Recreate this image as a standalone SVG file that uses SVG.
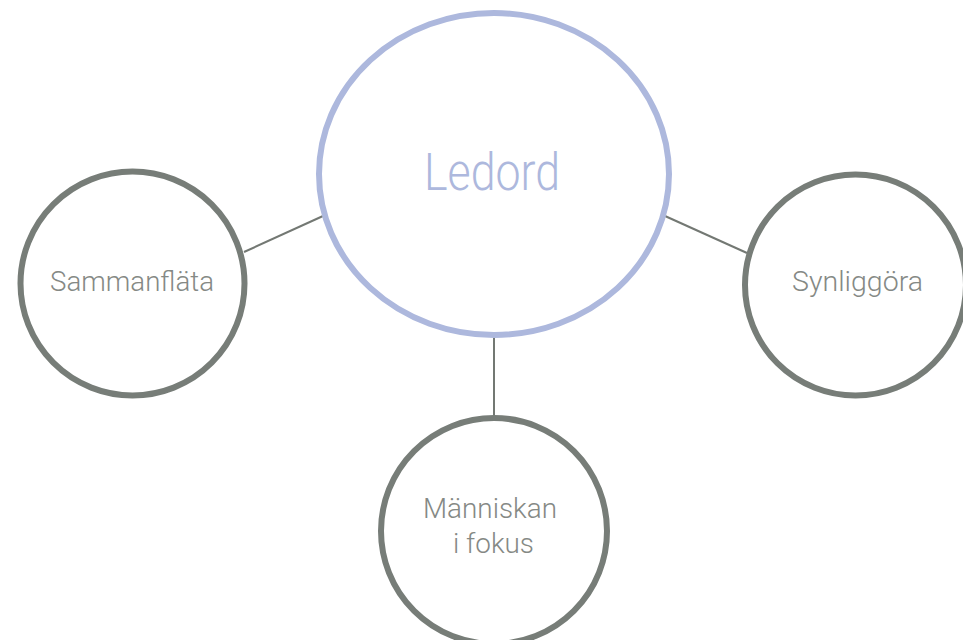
<svg xmlns="http://www.w3.org/2000/svg" width="963" height="640" viewBox="0 0 963 640">
<style>
.sat{fill:#ffffff;stroke:#777d78;stroke-width:6}
.lbl{font-family:"Roboto","Liberation Sans",Arial,sans-serif;font-weight:300;font-size:28px;fill:#858985;text-anchor:middle}
.conn{stroke:#737873;stroke-width:2;fill:none}
</style>
<rect width="963" height="640" fill="#ffffff"/>
<g id="connectors">
<line class="conn" x1="244" y1="252" x2="323" y2="216"/>
<line class="conn" x1="665" y1="216" x2="747" y2="253"/>
<line class="conn" x1="494" y1="336" x2="494" y2="418"/>
</g>
<g id="ledord">
<ellipse cx="494" cy="174" rx="175" ry="161" fill="#ffffff" stroke="#adb8dd" stroke-width="6"/>
<text x="492" y="189.5" font-family="Roboto,Liberation Sans,Arial,sans-serif" font-weight="300" font-size="51" fill="#adb8dd" text-anchor="middle" textLength="136" lengthAdjust="spacingAndGlyphs">Ledord</text>
</g>
<g id="sammanflata">
<circle class="sat" cx="132.5" cy="283.5" r="112"/>
<text class="lbl" x="132" y="291" textLength="164" lengthAdjust="spacingAndGlyphs">Sammanfläta</text>
</g>
<g id="synliggora">
<circle class="sat" cx="855.5" cy="285" r="110.5"/>
<text class="lbl" x="857.5" y="291" textLength="131" lengthAdjust="spacingAndGlyphs">Synliggöra</text>
</g>
<g id="manniskan">
<circle class="sat" cx="494" cy="531" r="113"/>
<text class="lbl" x="490" y="517.5" textLength="134" lengthAdjust="spacingAndGlyphs">Människan</text>
<text class="lbl" x="493.5" y="552.5" textLength="81" lengthAdjust="spacingAndGlyphs">i fokus</text>
</g>
</svg>
